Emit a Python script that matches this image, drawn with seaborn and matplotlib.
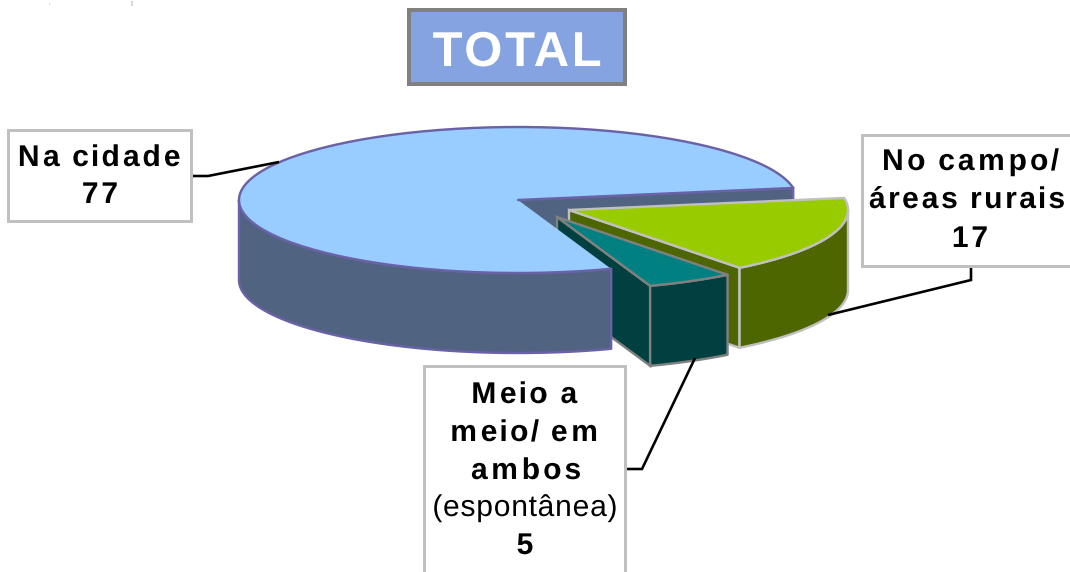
import numpy as np
import matplotlib
matplotlib.use("Agg")
import matplotlib.pyplot as plt
from matplotlib.path import Path
from matplotlib.patches import Rectangle
from matplotlib.patheffects import AbstractPathEffect
import seaborn as sns

# ---- data ----
slice_names = ["Na cidade", "Meio a meio/ em ambos (espontânea)", "No campo/ áreas rurais"]
slice_values = [77, 5, 17]
top_colors = ["#99CCFF", "#008080", "#99CC00"]
wall_colors = ["#506482", "#004040", "#4D6600"]
edge_colors = ["#6A62A6", "#808080", "#C0C0C0"]

sns.set_theme(style="white")
plt.rcParams["font.family"] = ["Liberation Sans", "DejaVu Sans"]

fig = plt.figure(figsize=(10.7, 5.72), dpi=100)
ax = fig.add_axes([0, 0, 1, 1])
ax.set_xlim(0, 1070)
ax.set_ylim(572, 0)
ax.axis("off")

PX = 0.72  # points per pixel
RX, RY, DEPTH = 279, 73, 80
START = 9.5
CENTERS = [(518, 200), (557, 217), (569, 210)]

# slice angles from the values (counter-clockwise from START)
spans = np.array(slice_values, float) / sum(slice_values) * 360
edges = START + np.concatenate([[0], np.cumsum(spans)])


def rim(c, a0, a1, n=160):
    a = np.radians(np.linspace(a0, a1, n))
    return c[0] + RX * np.cos(a), c[1] - RY * np.sin(a)


def cut_face(i, angle, z):
    c = CENTERS[i]
    x, y = rim(c, angle, angle, 1)
    xs = [c[0], x[0], x[0], c[0]]
    ys = [c[1], y[0], y[0] + DEPTH, c[1] + DEPTH]
    ax.fill(xs, ys, fc=wall_colors[i], ec=edge_colors[i], lw=2.4 * PX, zorder=z, joinstyle="miter")


def wall(i, a0, a1, z):
    x, y = rim(CENTERS[i], a0, a1)
    ax.fill(np.r_[x, x[::-1]], np.r_[y, y[::-1] + DEPTH], fc=wall_colors[i],
            ec=edge_colors[i], lw=2.4 * PX, zorder=z, joinstyle="round")


def top(i, a0, a1, z):
    c = CENTERS[i]
    x, y = rim(c, a0, a1)
    ax.fill(np.r_[c[0], x], np.r_[c[1], y], fc=top_colors[i],
            ec=edge_colors[i] if i else "none", lw=2.4 * PX, zorder=z, joinstyle="round")
    if i == 0:
        ax.plot(np.r_[c[0], x], np.r_[c[1], y], color=edge_colors[0], lw=2.4 * PX, zorder=z + 0.1)


cut_face(0, edges[0], 1)                 # back face of the big slice
cut_face(2, edges[2], 2)                 # visible cut of the green slice
cut_face(1, edges[1], 3)                 # visible cut of the teal slice
wall(0, 180, edges[1], 4)
top(0, edges[0], edges[1], 5)
wall(1, edges[1], edges[2], 6)
top(1, edges[1], edges[2], 7)
wall(2, edges[2], 360, 8)
top(2, edges[2], edges[3], 9)


class LetterSpacing(AbstractPathEffect):
    """Opens up the letters of a text line about its centre."""

    def __init__(self, factor):
        super().__init__()
        self.factor = factor

    def draw_path(self, renderer, gc, tpath, affine, rgbFace=None):
        v = tpath.vertices.copy()
        if len(v):
            mid = (v[:, 0].min() + v[:, 0].max()) / 2
            starts = np.flatnonzero(tpath.codes == Path.MOVETO)
            for s, e in zip(starts, np.r_[starts[1:], len(v)]):
                cx = (v[s:e, 0].min() + v[s:e, 0].max()) / 2
                v[s:e, 0] += (self.factor - 1) * (cx - mid)
        renderer.draw_path(gc, Path(v, tpath.codes), affine, rgbFace)


def line(x, y, s, size=30, weight="bold", factor=1.17, color="black"):
    ax.text(x, y, s, fontsize=size * PX, fontweight=weight, ha="center", va="baseline",
            color=color, zorder=20, path_effects=[LetterSpacing(factor)])


def box(x0, y0, x1, y1):
    ax.add_patch(Rectangle((x0, y0), x1 - x0, y1 - y0, fc="white", ec="#C0C0C0",
                           lw=3 * PX, zorder=15, clip_on=True))


def leader(xs, ys):
    ax.plot(xs, ys, color="black", lw=2.6 * PX, zorder=14, solid_capstyle="butt", solid_joinstyle="miter")


# title
ax.add_patch(Rectangle((409, 10), 216, 74, fc="#85A3E0", ec="#808080", lw=4 * PX, zorder=15))
line(517, 66, "TOTAL", size=49, factor=1.08, color="white")

# labels
box(8, 130, 191, 221)
line(99, 166, "Na cidade")
line(100, 203, str(slice_values[0]))
leader([192, 208, 279], [176, 176, 162])

box(862, 135, 1085, 266)
line(970, 170, "No campo/")
line(967, 208, "áreas rurais")
line(970, 247, str(slice_values[2]))
leader([971, 971, 828], [262, 280, 315])

box(424, 366, 625, 590)
line(524, 403, "Meio a")
line(524, 441, "meio/ em")
line(526, 479, "ambos")
line(525, 516, "(espontânea)", weight="normal", factor=1.05)
line(525, 554, str(slice_values[1]))
leader([626, 642, 695], [469, 469, 358])

# remains of a source note at the top edge, kept small enough to stay on the canvas
ax.text(49, 4.5, ",", fontsize=4.2, color="#808080", ha="center", va="baseline", zorder=20)
ax.text(132, 4.5, "]", fontsize=4.2, color="#808080", ha="center", va="baseline", zorder=20)

fig.savefig("out.png", dpi=100)
